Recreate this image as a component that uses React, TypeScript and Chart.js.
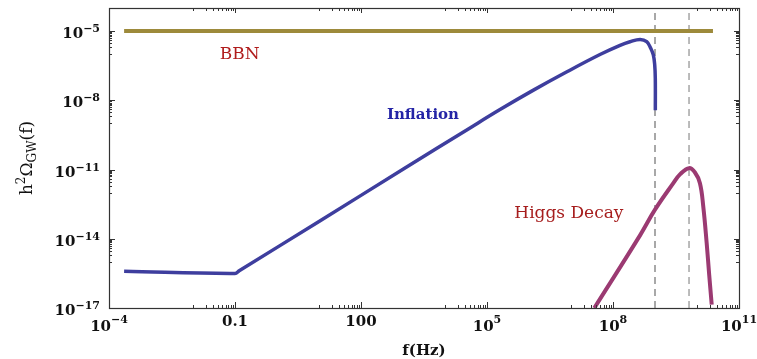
import React, { useEffect, useRef } from 'react';
import { Chart, registerables } from 'chart.js';

Chart.register(...registerables);

// ---- data ----
const bbnFreq = [2.29e-4, 2.4e10];
const bbnOmega = [1e-5, 1e-5];

const inflationFreq = [
  2.29e-4, 0.1, 0.126, 10, 1000, 3.94e4, 2.04e5, 1.245e6, 7.6e6, 4.9e7, 1.47e8,
  2.54e8, 4.4e8, 6.34e8, 7.91e8, 9.12e8, 9.84e8, 1.016e9, 1.019e9,
];
const inflationOmega = [
  3.89e-16, 3.16e-16, 4.07e-16, 5.66e-14, 1.02e-11, 6.38e-10, 3.98e-9, 2.69e-8,
  1.64e-7, 9.62e-7, 2.4e-6, 3.44e-6, 4.33e-6, 3.48e-6, 1.8e-6, 9.23e-7, 3.4e-7,
  9.06e-8, 3.72e-9,
];

const higgsFreq = [
  3.59e7, 4.4e8, 1e9, 2.73e9, 3.98e9, 6.46e9, 8.95e9, 1.175e10, 1.41e10, 1.7e10,
  1.95e10, 2.24e10,
];
const higgsOmega = [
  1e-17, 1.41e-14, 1.82e-13, 2.57e-12, 6.31e-12, 1.15e-11, 7.41e-12, 2.57e-12,
  2.51e-13, 6.46e-15, 2.8e-16, 1.4e-17,
];

const markerFreq = [1e9, 6.46e9];

const xRange = [1e-4, 1e11];
const yRange = [1e-17, 1e-4];
const xMajorTicks = [1e-4, 0.1, 100, 1e5, 1e8, 1e11];
const xTickLabels = ['10^−4', '0.1', '100', '10^5', '10^8', '10^11'];
const yMajorTicks = [1e-17, 1e-14, 1e-11, 1e-8, 1e-5];
const yTickLabels = ['10^−17', '10^−14', '10^−11', '10^−8', '10^−5'];

const FONT = "'DejaVu Serif', serif";
const TICK = `bold 15px ${FONT}`;
const TICK_SMALL = `bold 11px ${FONT}`;
const MAIN = `17px ${FONT}`;
const SMALL = `12px ${FONT}`;

const framePlugin = {
  id: 'frame',
  afterDraw(chart: any) {
    const ctx = chart.ctx as CanvasRenderingContext2D;
    const { left, right, top, bottom } = chart.chartArea;
    const xs = chart.scales.x;
    const ys = chart.scales.y;
    ctx.save();
    // frame
    ctx.strokeStyle = '#333';
    ctx.lineWidth = 1.2;
    ctx.strokeRect(Math.round(left) + 0.5, Math.round(top) + 0.5, Math.round(right - left), Math.round(bottom - top));

    // ticks
    const minorsOf = (majors: number[], lo: number, hi: number) => {
      const out: number[] = [];
      majors.forEach((m) => {
        for (let k = 1; k <= 9; k++) {
          const v = (m / 10) * k;
          if (v >= lo && v <= hi) out.push(v);
        }
      });
      return out;
    };
    ctx.lineWidth = 1;
    ctx.beginPath();
    const xm = minorsOf(xMajorTicks, xRange[0], xRange[1]);
    xMajorTicks.forEach((v) => {
      const px = Math.round(xs.getPixelForValue(v)) + 0.5;
      ctx.moveTo(px, bottom); ctx.lineTo(px, bottom - 6);
      ctx.moveTo(px, top); ctx.lineTo(px, top + 5);
    });
    xm.forEach((v) => {
      const px = Math.round(xs.getPixelForValue(v)) + 0.5;
      ctx.moveTo(px, bottom); ctx.lineTo(px, bottom - 3);
      ctx.moveTo(px, top); ctx.lineTo(px, top + 3);
    });
    const ym = minorsOf(yMajorTicks, yRange[0], yRange[1]);
    yMajorTicks.forEach((v) => {
      const py = Math.round(ys.getPixelForValue(v)) + 0.5;
      ctx.moveTo(left, py); ctx.lineTo(left + 6, py);
      ctx.moveTo(right, py); ctx.lineTo(right - 5, py);
    });
    ym.forEach((v) => {
      const py = Math.round(ys.getPixelForValue(v)) + 0.5;
      ctx.moveTo(left, py); ctx.lineTo(left + 3, py);
      ctx.moveTo(right, py); ctx.lineTo(right - 3, py);
    });
    ctx.stroke();

    // tick labels
    ctx.fillStyle = '#111';
    ctx.textBaseline = 'alphabetic';
    ctx.textAlign = 'left';
    const split = (s: string) => {
      const i = s.indexOf('^');
      return i < 0 ? [s, ''] : [s.slice(0, i), s.slice(i + 1)];
    };
    xMajorTicks.forEach((v, i) => {
      const [b, e] = split(xTickLabels[i]);
      const px = xs.getPixelForValue(v);
      ctx.font = TICK;
      const wb = ctx.measureText(b).width;
      ctx.font = TICK_SMALL;
      const we = e ? ctx.measureText(e).width : 0;
      const x0 = px - (wb + we) / 2;
      ctx.font = TICK;
      if (e) {
        ctx.fillText(b, x0, 331);
        ctx.font = TICK_SMALL;
        ctx.fillText(e, x0 + wb, 323);
      } else {
        ctx.fillText(b, x0, 326);
      }
    });
    yMajorTicks.forEach((v, i) => {
      const [b, e] = split(yTickLabels[i]);
      const py = ys.getPixelForValue(v);
      ctx.font = TICK;
      const wb = ctx.measureText(b).width;
      ctx.font = TICK_SMALL;
      const we = ctx.measureText(e).width;
      const x1 = left - 9;
      ctx.font = TICK;
      ctx.fillText(b, x1 - we - wb, py + 7);
      ctx.font = TICK_SMALL;
      ctx.fillText(e, x1 - we, py + 1);
    });

    // axis titles
    ctx.font = TICK;
    ctx.textAlign = 'center';
    ctx.fillText('f(Hz)', (left + right) / 2, 355);

    // y title rotated
    const parts: [string, string, number][] = [
      ['h', MAIN, 0], ['2', SMALL, -7], ['Ω', MAIN, 0], ['GW', SMALL, 4], ['(f)', MAIN, 0],
    ];
    let tw = 0;
    const widths = parts.map(([t, f]) => { ctx.font = f; const w = ctx.measureText(t).width; tw += w; return w; });
    ctx.save();
    ctx.translate(32, (top + bottom) / 2);
    ctx.rotate(-Math.PI / 2);
    ctx.textAlign = 'left';
    let cx = -tw / 2;
    parts.forEach(([t, f, dy], i) => {
      ctx.font = f;
      ctx.fillText(t, cx, dy);
      cx += widths[i];
    });
    ctx.restore();

    // curve annotations
    const note = (t: string, fx: number, fy: number, color: string, font: string) => {
      ctx.font = font;
      ctx.fillStyle = color;
      ctx.textAlign = 'center';
      ctx.textBaseline = 'middle';
      ctx.fillText(t, xs.getPixelForValue(fx), ys.getPixelForValue(fy));
    };
    note('BBN', 0.13, 1e-6, '#b01c1c', MAIN);
    note('Inflation', 2990, 2.34e-9, '#2424a6', `bold 15px ${FONT}`);
    note('Higgs Decay', 8.9e6, 1.2e-13, '#a61d1d', MAIN);
    ctx.restore();
  },
};

const pts = (xs: number[], ys: number[]) => xs.map((x, i) => ({ x, y: ys[i] }));

export default function App() {
  const ref = useRef<HTMLCanvasElement>(null);
  useEffect(() => {
    if (!ref.current) return;
    const chart = new Chart(ref.current, {
      type: 'line',
      data: {
        datasets: [
          {
            label: 'Inflation',
            data: pts(inflationFreq, inflationOmega),
            borderColor: '#3e3e9e',
            borderWidth: 3.5,
            pointRadius: 0,
            tension: 0.4,
            fill: false,
          },
          {
            label: 'Higgs Decay',
            data: pts(higgsFreq, higgsOmega),
            borderColor: '#9b3a72',
            borderWidth: 4,
            pointRadius: 0,
            tension: 0.4,
            fill: false,
          },
          {
            label: 'BBN',
            data: pts(bbnFreq, bbnOmega),
            borderColor: '#9d8a3b',
            borderWidth: 4,
            pointRadius: 0,
            fill: false,
          },
          {
            label: 'marker1',
            data: [{ x: markerFreq[0], y: yRange[0] }, { x: markerFreq[0], y: yRange[1] }],
            borderColor: '#7a7a7a',
            borderWidth: 1.3,
            borderDash: [7, 5],
            pointRadius: 0,
            fill: false,
          },
          {
            label: 'marker2',
            data: [{ x: markerFreq[1], y: yRange[0] }, { x: markerFreq[1], y: yRange[1] }],
            borderColor: '#ababab',
            borderWidth: 1.6,
            borderDash: [7, 5],
            pointRadius: 0,
            fill: false,
          },
        ],
      },
      options: {
        animation: false,
        responsive: false,
        events: [],
        layout: { padding: { left: 109, right: 18, top: 8, bottom: 51 } },
        scales: {
          x: { type: 'logarithmic', min: xRange[0], max: xRange[1], display: false },
          y: { type: 'logarithmic', min: yRange[0], max: yRange[1], display: false },
        },
        plugins: { legend: { display: false }, tooltip: { enabled: false } },
      },
      plugins: [framePlugin],
    } as any);
    return () => chart.destroy();
  }, []);
  return (
    <div style={{ position: 'fixed', left: 0, top: 0, width: 757, height: 359, background: '#fff' }}>
      <canvas ref={ref} width={757} height={359} style={{ display: 'block' }} />
    </div>
  );
}
